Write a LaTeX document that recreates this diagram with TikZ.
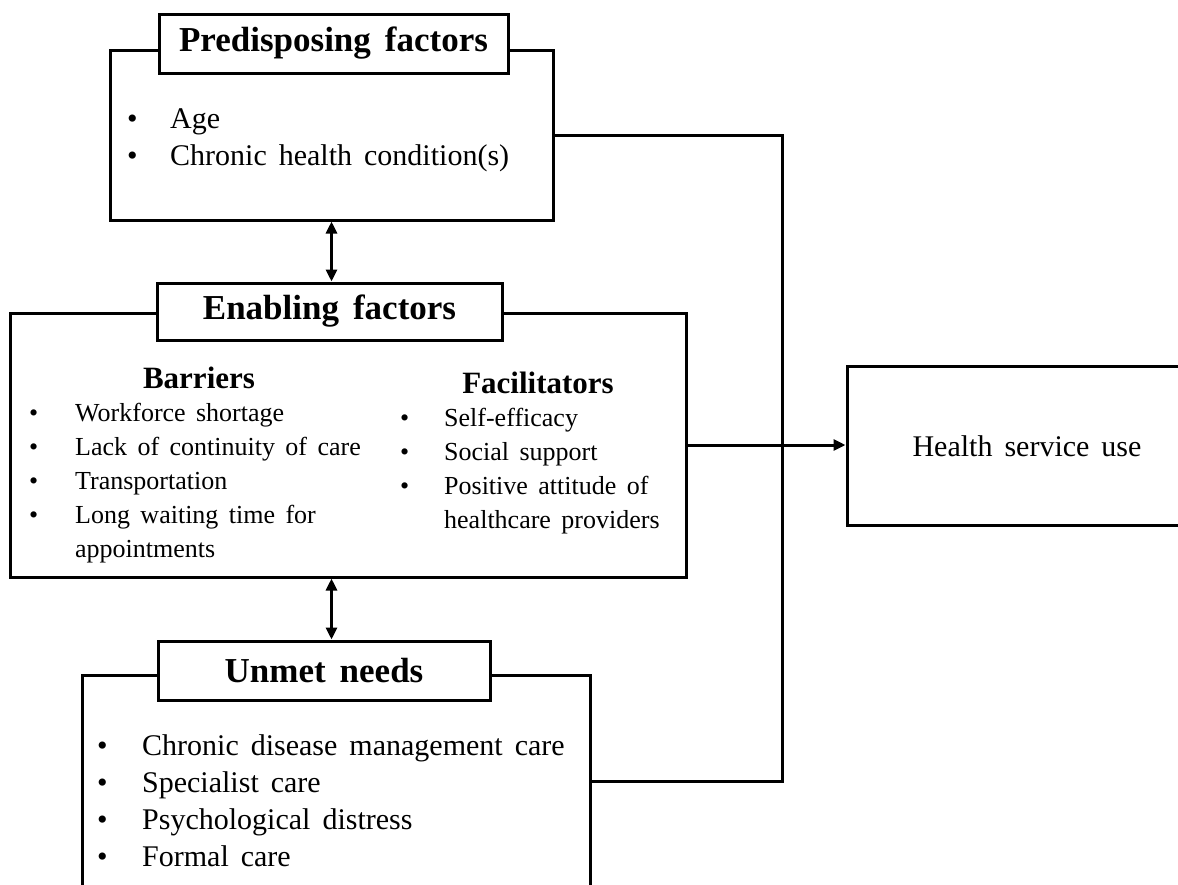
\documentclass[tikz,border=0pt]{standalone}
\usepackage{fontspec}
\setmainfont{Liberation Serif}[WordSpace=1.6]
\usepackage{tikz}
\usetikzlibrary{arrows.meta}
\newcommand{\itemfont}{\fontsize{30}{37}\selectfont}
\newcommand{\subfont}{\fontsize{26}{34}\selectfont}

\begin{document}
\begin{tikzpicture}[x=1pt,y=-1pt,
    frame/.style={draw,line width=3pt,rectangle,inner sep=0pt},
    titlebox/.style={frame,fill=white,font=\bfseries\fontsize{35}{42}\selectfont},
    link/.style={line width=3pt},
    tip/.tip={Triangle[length=12pt,width=11pt]},
    list/.style={anchor=base west,inner sep=0pt,align=left}]
  \useasboundingbox (0,0) rectangle (1178,884);
  \clip (0,0) rectangle (1178,884);
  % the four boxes
  \node[frame,minimum width=443pt,minimum height=170pt] (pre) at (331.5,135) {};
  \node[frame,minimum width=676pt,minimum height=264pt] (en) at (348,445) {};
  \node[frame,minimum width=508pt,minimum height=212pt] (un) at (336,781) {};
  \node[frame,minimum width=360pt,minimum height=159pt,font=\itemfont] (hsu) at (1027,446) {Health service use};
  % titles sit on the top edges
  \node[titlebox,minimum width=349pt,minimum height=59pt] (pretitle) at (333.5,43.5) {Predisposing factors};
  \node[titlebox,minimum width=345pt,minimum height=57pt] (entitle) at (329.5,311.5) {Enabling factors};
  \node[titlebox,minimum width=332pt,minimum height=59pt] (untitle) at (324,670.5) {Unmet needs};
  % lists
  \node[list,font=\itemfont] (prelist) at (127,128) {%
    \begin{tabular}[t]{@{}p{43pt}@{}l@{}}
      \textbullet & Age\\
      \textbullet & Chronic health condition(s)
    \end{tabular}};
  \node[anchor=base,inner sep=0pt,font=\bfseries\fontsize{31}{37}\selectfont] (barhead) at (199,388) {Barriers};
  \node[list,font=\subfont] (barlist) at (29,421) {%
    \begin{tabular}[t]{@{}p{46pt}@{}l@{}}
      \textbullet & Workforce shortage\\
      \textbullet & Lack of continuity of care\\
      \textbullet & Transportation\\
      \textbullet & Long waiting time for\\
                  & appointments
    \end{tabular}};
  \node[anchor=base,inner sep=0pt,font=\bfseries\fontsize{31}{37}\selectfont] (fachead) at (538,393) {Facilitators};
  \node[list,font=\subfont] (faclist) at (400,426) {%
    \begin{tabular}[t]{@{}p{44pt}@{}l@{}}
      \textbullet & Self-efficacy\\
      \textbullet & Social support\\
      \textbullet & Positive attitude of\\
                  & healthcare providers
    \end{tabular}};
  \node[list,font=\itemfont] (unlist) at (97,755) {%
    \begin{tabular}[t]{@{}p{45pt}@{}l@{}}
      \textbullet & Chronic disease management care\\
      \textbullet & Specialist care\\
      \textbullet & Psychological distress\\
      \textbullet & Formal care
    \end{tabular}};
  % connectors
  \draw[link,tip-tip] (pre.south) -- (pre.south |- entitle.north);
  \draw[link,tip-tip] (pre.south |- en.south) -- (pre.south |- untitle.north);
  \coordinate (bus) at (782,445);
  \draw[link] (pre.east) -| (bus);
  \draw[link] (un.east) -| (bus);
  \draw[link,-tip] (en.east) -- (en.east -| hsu.west);
\end{tikzpicture}
\end{document}
